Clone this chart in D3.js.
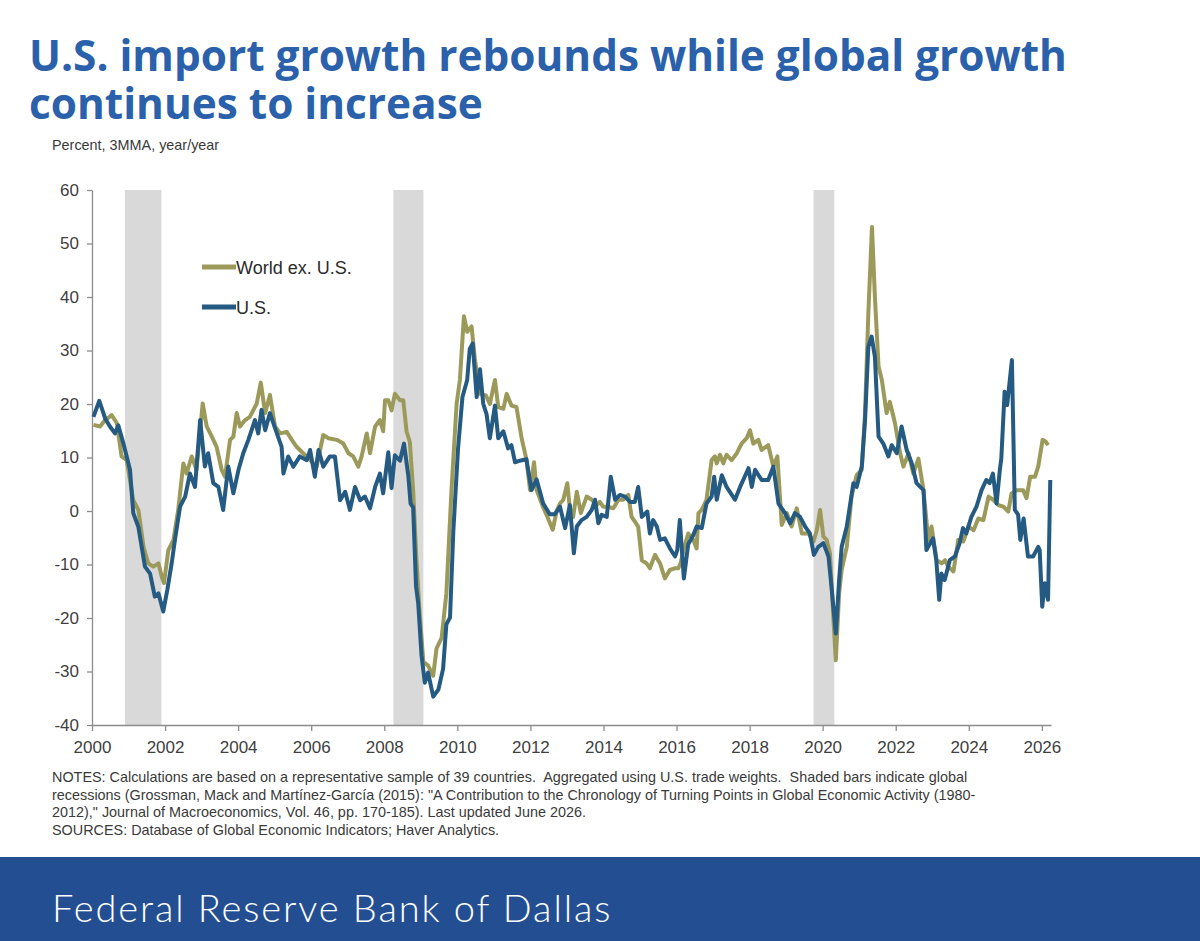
<!DOCTYPE html>
<html>
<head>
<meta charset="utf-8">
<script src="https://cdn.jsdelivr.net/npm/d3@7"></script>
<style>
    body { margin: 0; background: #ffffff; }
    #chart { width: 1200px; height: 941px; }
    .axis path, .axis line { stroke: #8c8c8c; stroke-width: 1.3; }
    .axis text { font-family: "Liberation Sans", Arial, sans-serif; font-size: 17px; fill: #404040; }
    .note { font-family: "Liberation Sans", Arial, sans-serif; font-size: 14.4px; fill: #3a3a3a; white-space: pre; }
</style>
</head>
<body>
<div id="chart"></div>
<script>
// Values: [decimal year, percent]
const worldSeries = [
    [2000.04,16.1],[2000.22,15.8],[2000.36,17.0],[2000.54,17.9],[2000.68,16.4],[2000.81,10.2],[2000.95,9.5],
    [2001.13,2.0],[2001.27,0.2],[2001.41,-6.7],[2001.54,-9.8],[2001.68,-10.4],[2001.82,-9.8],[2001.91,-12.3],[2001.97,-13.5],
    [2002.09,-7.3],[2002.23,-5.4],[2002.36,0.2],[2002.50,8.9],[2002.59,7.0],[2002.73,10.2],[2002.86,7.7],
    [2003.03,20.1],[2003.14,15.8],[2003.28,13.9],[2003.41,12.0],[2003.55,7.7],[2003.64,6.4],[2003.78,13.3],[2003.87,13.9],[2003.96,18.3],
    [2004.05,15.8],[2004.19,17.0],[2004.32,17.6],[2004.42,18.9],[2004.51,20.1],[2004.62,24.0],[2004.74,18.3],[2004.87,21.7],
    [2005.01,15.8],[2005.15,14.5],[2005.33,14.8],[2005.47,13.3],[2005.60,12.0],[2005.78,10.8],[2005.97,9.5],
    [2006.15,8.3],[2006.33,14.2],[2006.47,13.6],[2006.70,13.3],[2006.88,12.6],
    [2007.02,10.8],[2007.15,10.2],[2007.29,8.3],[2007.38,10.2],[2007.52,14.5],[2007.61,10.8],[2007.75,15.8],[2007.88,17.0],[2007.97,14.9],
    [2008.02,20.7],[2008.11,20.7],[2008.20,18.8],[2008.29,21.9],[2008.43,20.7],[2008.52,20.7],[2008.61,14.9],[2008.70,12.9],[2008.79,3.9],[2008.88,-9.0],[2008.97,-19.2],
    [2009.07,-28.2],[2009.20,-28.9],[2009.34,-30.8],[2009.43,-25.7],[2009.57,-23.7],[2009.70,-15.4],[2009.84,3.9],[2009.98,20.0],
    [2010.07,24.5],[2010.18,36.4],[2010.27,33.5],[2010.39,34.5],[2010.48,28.4],[2010.62,21.9],[2010.78,21.6],[2010.89,20.0],
    [2011.03,24.5],[2011.12,19.4],[2011.26,19.1],[2011.35,21.9],[2011.48,19.7],[2011.62,19.4],[2011.76,13.6],[2011.89,9.7],[2011.99,3.9],
    [2012.10,9.1],[2012.17,3.9],[2012.35,0.7],[2012.49,-1.5],[2012.61,-3.5],[2012.72,0.0],[2012.81,1.4],[2012.90,2.1],
    [2013.01,5.2],[2013.08,0.5],[2013.17,-1.1],[2013.27,3.6],[2013.38,-0.4],[2013.54,2.7],[2013.68,2.1],[2013.81,1.1],[2013.90,1.7],[2013.99,0.8],
    [2014.13,0.8],[2014.27,0.5],[2014.41,2.1],[2014.54,2.1],[2014.68,3.0],[2014.77,-1.1],[2014.86,-2.0],[2014.95,-2.9],
    [2015.05,-9.2],[2015.18,-9.8],[2015.27,-10.7],[2015.41,-8.2],[2015.55,-9.8],[2015.68,-12.6],[2015.82,-11.0],[2015.96,-10.7],
    [2016.05,-10.7],[2016.11,-9.8],[2016.19,-7.3],[2016.32,-4.2],[2016.46,-5.4],[2016.55,-7.0],[2016.60,-0.4],[2016.69,0.2],[2016.82,2.1],[2016.96,9.5],
    [2017.05,10.2],[2017.10,8.9],[2017.19,10.5],[2017.28,8.9],[2017.37,10.5],[2017.51,9.5],[2017.65,10.8],[2017.78,12.6],[2017.92,13.6],
    [2018.01,15.1],[2018.10,12.6],[2018.24,13.3],[2018.33,11.4],[2018.51,12.3],[2018.65,8.3],[2018.76,10.2],[2018.88,-2.6],
    [2019.02,-0.4],[2019.15,-2.9],[2019.29,0.5],[2019.43,-4.2],[2019.61,-4.2],[2019.75,-5.7],[2019.84,-3.6],[2019.93,0.2],
    [2020.02,-4.8],[2020.11,-5.4],[2020.20,-7.9],[2020.28,-18.5],[2020.36,-27.9],[2020.45,-15.4],[2020.52,-11.0],[2020.66,-6.7],[2020.79,2.7],[2020.93,6.7],
    [2021.07,7.7],[2021.16,18.3],[2021.25,36.9],[2021.35,53.1],[2021.43,40.0],[2021.53,27.0],[2021.62,24.5],[2021.75,18.3],[2021.84,20.4],[2021.98,16.4],
    [2022.12,10.8],[2022.21,8.3],[2022.35,10.8],[2022.48,7.0],[2022.62,9.8],[2022.76,3.9],[2022.89,-5.4],[2022.98,-2.9],
    [2023.12,-9.2],[2023.26,-9.8],[2023.35,-9.2],[2023.44,-10.4],[2023.58,-11.3],[2023.71,-5.4],[2023.85,-5.7],[2023.99,-2.9],
    [2024.13,-3.6],[2024.26,-1.4],[2024.40,-1.7],[2024.54,2.7],[2024.67,2.1],[2024.81,1.1],[2024.95,0.8],
    [2025.08,-0.1],[2025.17,3.3],[2025.31,3.9],[2025.49,3.9],[2025.58,2.4],[2025.68,6.4],[2025.81,6.4],[2025.90,8.3],
    [2026.02,13.3],[2026.10,13.0],[2026.17,12.3]
];

const usSeries = [
    [2000.04,17.6],[2000.20,20.6],[2000.36,17.3],[2000.49,15.8],[2000.63,14.5],[2000.72,16.0],[2000.86,12.6],
    [2001.04,7.7],[2001.13,-0.4],[2001.27,-3.0],[2001.45,-10.4],[2001.59,-11.7],[2001.72,-16.0],[2001.82,-15.4],[2001.95,-18.8],
    [2002.06,-14.8],[2002.18,-9.8],[2002.27,-5.4],[2002.41,0.8],[2002.55,2.7],[2002.68,7.0],[2002.82,4.5],[2002.96,17.0],
    [2003.09,8.3],[2003.18,10.8],[2003.32,5.2],[2003.46,4.5],[2003.59,0.2],[2003.73,8.3],[2003.87,3.3],
    [2004.01,7.7],[2004.14,10.8],[2004.28,13.3],[2004.46,17.0],[2004.55,14.5],[2004.64,18.9],[2004.74,15.1],[2004.87,18.3],
    [2005.01,15.5],[2005.19,12.0],[2005.24,7.0],[2005.37,10.2],[2005.51,8.3],[2005.69,10.2],[2005.88,9.5],[2005.97,11.4],
    [2006.10,6.4],[2006.20,11.4],[2006.33,8.3],[2006.51,10.2],[2006.65,10.2],[2006.79,2.0],[2006.93,3.6],
    [2007.06,0.2],[2007.20,4.5],[2007.34,2.0],[2007.47,2.7],[2007.61,0.5],[2007.75,4.5],[2007.88,7.0],[2007.97,3.3],
    [2008.11,11.0],[2008.20,4.3],[2008.29,10.4],[2008.43,9.4],[2008.54,12.6],[2008.66,6.5],[2008.72,1.4],[2008.79,0.7],[2008.87,-14.1],[2008.93,-17.3],
    [2009.02,-27.0],[2009.11,-32.1],[2009.20,-30.2],[2009.34,-34.7],[2009.48,-33.4],[2009.61,-29.5],[2009.70,-21.2],[2009.80,-19.9],[2009.89,-3.8],
    [2010.02,11.7],[2010.14,21.3],[2010.27,24.5],[2010.34,30.3],[2010.42,31.3],[2010.53,21.3],[2010.62,26.5],[2010.71,20.0],[2010.80,18.1],[2010.89,13.6],
    [2011.03,19.7],[2011.12,13.6],[2011.26,14.9],[2011.39,11.7],[2011.48,12.3],[2011.58,9.1],[2011.71,9.4],[2011.89,9.7],
    [2012.03,3.9],[2012.17,5.9],[2012.35,1.4],[2012.53,-0.6],[2012.67,-0.6],[2012.81,0.8],[2012.95,-3.2],
    [2013.08,1.1],[2013.19,-7.9],[2013.27,-2.9],[2013.40,-1.7],[2013.54,-1.1],[2013.68,0.2],[2013.77,2.1],[2013.86,-2.3],[2013.95,-0.7],
    [2014.09,-1.1],[2014.20,6.4],[2014.32,2.1],[2014.45,3.0],[2014.59,2.7],[2014.73,1.7],[2014.86,1.7],[2014.95,4.5],
    [2015.05,-1.1],[2015.20,-0.1],[2015.27,-4.2],[2015.36,-1.7],[2015.46,-2.9],[2015.55,-5.4],[2015.68,-5.1],[2015.82,-7.0],[2015.96,-8.5],
    [2016.02,-7.3],[2016.09,-1.7],[2016.20,-12.6],[2016.32,-6.2],[2016.46,-4.5],[2016.55,-2.9],[2016.69,-3.2],[2016.82,1.4],[2016.96,2.7],
    [2017.03,6.4],[2017.10,2.1],[2017.24,6.7],[2017.37,4.5],[2017.60,2.1],[2017.74,4.5],[2017.97,8.0],
    [2018.06,4.5],[2018.15,7.7],[2018.33,5.8],[2018.51,5.8],[2018.65,8.3],[2018.79,1.4],[2018.97,-0.4],
    [2019.11,-2.3],[2019.24,-0.4],[2019.38,-1.1],[2019.52,-2.9],[2019.65,-4.2],[2019.76,-8.2],[2019.88,-6.7],
    [2020.02,-6.0],[2020.16,-8.5],[2020.25,-14.8],[2020.36,-22.9],[2020.45,-12.9],[2020.52,-6.7],[2020.66,-2.9],[2020.84,5.2],[2020.93,4.5],
    [2021.07,8.3],[2021.16,17.0],[2021.25,30.7],[2021.34,32.6],[2021.43,28.8],[2021.53,13.9],[2021.66,12.6],[2021.80,10.2],[2021.89,12.3],
    [2022.03,10.8],[2022.16,15.8],[2022.30,11.4],[2022.44,8.9],[2022.57,5.2],[2022.76,3.9],[2022.84,-7.3],
    [2023.02,-5.1],[2023.11,-9.2],[2023.19,-16.6],[2023.25,-11.7],[2023.34,-12.9],[2023.48,-9.2],[2023.62,-8.5],[2023.75,-6.0],[2023.84,-3.2],[2023.93,-4.2],
    [2024.07,-1.1],[2024.21,0.8],[2024.35,3.9],[2024.48,5.8],[2024.57,5.2],[2024.66,7.0],[2024.76,1.4],[2024.85,7.7],[2024.89,9.8],[2024.98,22.3],
    [2025.05,19.8],[2025.18,28.2],[2025.26,0.2],[2025.35,-0.7],[2025.41,-5.4],[2025.50,-1.4],[2025.62,-8.5],[2025.76,-8.5],[2025.90,-6.7],[2025.94,-7.3],
    [2026.01,-17.9],[2026.08,-13.5],[2026.17,-16.6],[2026.23,5.8]
];

// Global recessions (start, end) in decimal years
const recessions = [[2000.90, 2001.90], [2008.25, 2009.07], [2019.75, 2020.32]];

const xTicks = d3.range(2000, 2027, 2);
const yTicks = d3.range(-40, 61, 10);

const seriesNames = ["World ex. U.S.", "U.S."];
const seriesColors = ["#9c9a5b", "#255a82"];

const titleLines = ["U.S. import growth rebounds while global growth", "continues to increase"];
const noteLines = [
    "NOTES: Calculations are based on a representative sample of 39 countries.  Aggregated using U.S. trade weights.  Shaded bars indicate global",
    "recessions (Grossman, Mack and Martínez-García (2015): \"A Contribution to the Chronology of Turning Points in Global Economic Activity (1980-",
    "2012),\" Journal of Macroeconomics, Vol. 46, pp. 170-185). Last updated June 2026.",
    "SOURCES: Database of Global Economic Indicators; Haver Analytics."
];

/**
 * Constructor for the import growth chart
 */
function ImportChart(){
    let self = this;
    self.init();
};

/**
 * Builds the svg and draws everything
 */
ImportChart.prototype.init = function(){
    let self = this;
    self.width = 1200;
    self.height = 941;
    self.plot = {left: 92, right: 1051, top: 190, bottom: 725};

    self.svg = d3.select("#chart").append("svg")
        .attr("width", self.width)
        .attr("height", self.height);

    //Title in one text element, scaled so the first line fills the original width
    let title = self.svg.append("text")
        .attr("font-family", "Open Sans, Lato, sans-serif")
        .attr("font-weight", 700)
        .attr("font-size", 40)
        .attr("fill", "#2a61aa");
    let spans = title.selectAll("tspan")
        .data(titleLines)
        .enter()
        .append("tspan")
        .attr("x", 29)
        .attr("y", (d, i) => 71 + i * 48)
        .text(d => d);
    let fit = 40 * 1038 / spans.nodes()[0].getComputedTextLength();
    title.attr("font-size", fit);

    //Unit label
    self.svg.append("text")
        .attr("class", "note")
        .attr("x", 52)
        .attr("y", 150)
        .attr("font-size", 15)
        .text("Percent, 3MMA, year/year");

    self.x = d3.scaleLinear()
        .domain([2000, 2026.25])
        .range([self.plot.left, self.plot.right]);
    self.y = d3.scaleLinear()
        .domain([-40, 60])
        .range([self.plot.bottom, self.plot.top]);

    //Recession shading
    self.svg.append("g").selectAll("rect")
        .data(recessions)
        .enter()
        .append("rect")
        .attr("x", d => self.x(d[0]))
        .attr("y", self.y(60))
        .attr("width", d => self.x(d[1]) - self.x(d[0]))
        .attr("height", self.y(-40) - self.y(60))
        .attr("fill", "#d9d9d9");

    //Axes
    self.svg.append("g")
        .attr("class", "axis")
        .attr("transform", "translate(0," + self.plot.bottom + ")")
        .call(d3.axisBottom(self.x)
            .tickValues(xTicks)
            .tickFormat(d => String(d))
            .tickSizeInner(6)
            .tickSizeOuter(0)
            .tickPadding(10));
    self.svg.append("g")
        .attr("class", "axis")
        .attr("transform", "translate(" + self.plot.left + ",0)")
        .call(d3.axisLeft(self.y)
            .tickValues(yTicks)
            .tickFormat(d => String(d))
            .tickSizeInner(5)
            .tickSizeOuter(0)
            .tickPadding(8));

    //Lines, world first so the U.S. sits on top
    let line = d3.line()
        .x(d => self.x(d[0]))
        .y(d => self.y(d[1]));
    [worldSeries, usSeries].forEach(function(series, i){
        self.svg.append("path")
            .datum(series)
            .attr("fill", "none")
            .attr("stroke", seriesColors[i])
            .attr("stroke-width", 4)
            .attr("stroke-linejoin", "round")
            .attr("d", line);
    });

    //Legend
    let legend = self.svg.append("g").selectAll("g")
        .data(seriesNames)
        .enter()
        .append("g")
        .attr("transform", (d, i) => "translate(202," + (267 + i * 40) + ")");
    legend.append("line")
        .attr("x1", 0)
        .attr("x2", 34)
        .attr("stroke", (d, i) => seriesColors[i])
        .attr("stroke-width", 5);
    legend.append("text")
        .attr("x", 34)
        .attr("y", 6.5)
        .attr("font-family", "Liberation Sans, Arial, sans-serif")
        .attr("font-size", 18)
        .attr("fill", "#2b2b2b")
        .text(d => d);

    //Notes
    self.svg.append("g").selectAll("text")
        .data(noteLines)
        .enter()
        .append("text")
        .attr("class", "note")
        .attr("x", 52)
        .attr("y", (d, i) => 782 + i * 17.6)
        .text(d => d);

    //Footer band
    self.svg.append("rect")
        .attr("x", 0)
        .attr("y", 857)
        .attr("width", self.width)
        .attr("height", self.height - 857)
        .attr("fill", "#234f92");
    self.svg.append("text")
        .attr("x", 52)
        .attr("y", 922)
        .attr("font-family", "Lato, Open Sans, sans-serif")
        .attr("font-weight", 300)
        .attr("font-size", 38)
        .attr("letter-spacing", 1.9)
        .attr("fill", "#ffffff")
        .text("Federal Reserve Bank of Dallas");
}

new ImportChart();
</script>
</body>
</html>
